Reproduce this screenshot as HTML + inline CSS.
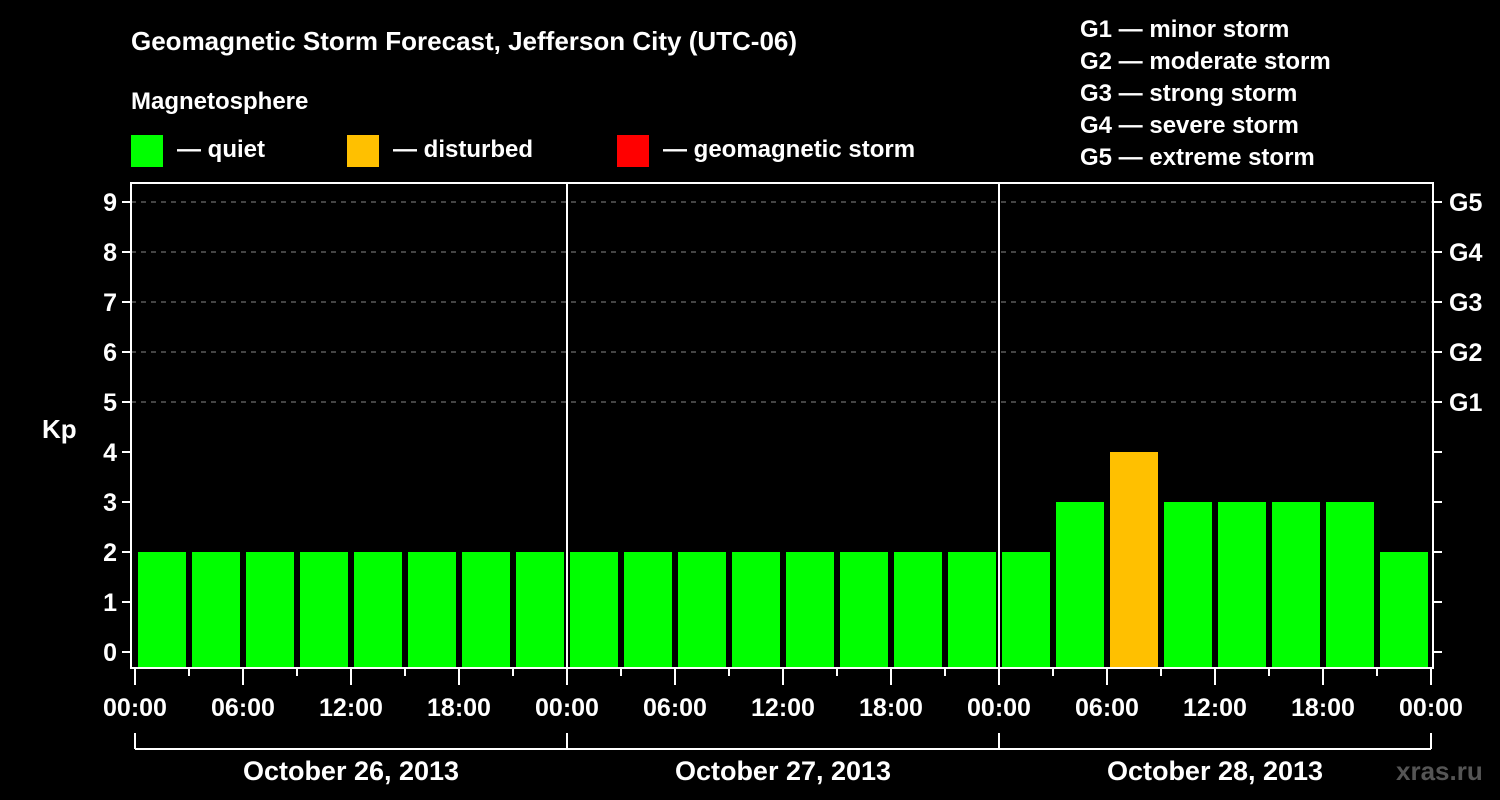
<!DOCTYPE html>
<html><head><meta charset="utf-8"><style>
body{margin:0;background:#000;}
svg{display:block;font-family:"Liberation Sans",Arial,sans-serif;font-weight:bold;}
</style></head><body>
<svg id="c" width="1500" height="800" viewBox="0 0 1500 800">
<rect width="1500" height="800" fill="#000"/>
<text x="131" y="50" fill="#fff" font-size="26">Geomagnetic Storm Forecast, Jefferson City (UTC-06)</text>
<text x="131" y="109" fill="#fff" font-size="24">Magnetosphere</text>
<g><rect x="131" y="135" width="32" height="32" fill="#00ff00"/><text x="177" y="157" fill="#fff" font-size="24">— quiet</text></g>
<g><rect x="347" y="135" width="32" height="32" fill="#ffc000"/><text x="393" y="157" fill="#fff" font-size="24">— disturbed</text></g>
<g><rect x="617" y="135" width="32" height="32" fill="#ff0000"/><text x="663" y="157" fill="#fff" font-size="24">— geomagnetic storm</text></g>
<g fill="#fff" font-size="24">
<text x="1080" y="37">G1 — minor storm</text>
<text x="1080" y="69">G2 — moderate storm</text>
<text x="1080" y="101">G3 — strong storm</text>
<text x="1080" y="133">G4 — severe storm</text>
<text x="1080" y="165">G5 — extreme storm</text>
</g>
<text x="42" y="438" fill="#fff" font-size="26">Kp</text>
<text x="1396" y="780" fill="#555" font-size="26">xras.ru</text>
<g id="plot"></g>
</svg>
<script>
const kpValues=[2,2,2,2,2,2,2,2, 2,2,2,2,2,2,2,2, 2,3,4,3,3,3,3,2];
const dayLabels=["October 26, 2013","October 27, 2013","October 28, 2013"];
const hourLabels=["00:00","06:00","12:00","18:00"];
const gLabels=["G1","G2","G3","G4","G5"];
const NS="http://www.w3.org/2000/svg";
const g=document.getElementById('plot');
const L=131,R=1433,T=183,B=668,X0=135,SLOT=54;
const y=v=>652-50*v;
const x=i=>X0+i*SLOT;
function el(t,a,txt){const e=document.createElementNS(NS,t);for(const k in a)e.setAttribute(k,a[k]);if(txt!==undefined)e.textContent=txt;g.appendChild(e);return e;}
// grid
for(let v=5;v<=9;v++){const e=el('line',{x1:L,x2:R,y1:y(v),y2:y(v),stroke:'#888','stroke-dasharray':'5,5','stroke-width':1});

}
// bars
kpValues.forEach((v,i)=>{const c=v>=5?'#ff0000':(v>=4?'#ffc000':'#00ff00');
const r=el('rect',{x:x(i)+3,y:y(v),width:48,height:B-y(v),fill:c});

});
// day separators
for(let d=1;d<dayLabels.length;d++){const e=el('line',{x1:x(d*8),x2:x(d*8),y1:T,y2:B,stroke:'#fff','stroke-width':2});

}
// frame
const f=el('rect',{x:L,y:T,width:R-L,height:B-T,fill:'none',stroke:'#fff','stroke-width':2});


// y ticks
for(let v=0;v<=9;v++){el('line',{x1:L-9,x2:L,y1:y(v),y2:y(v),stroke:'#fff','stroke-width':2});
el('line',{x1:R,x2:R+9,y1:y(v),y2:y(v),stroke:'#fff','stroke-width':2});
const t=el('text',{x:L-14,y:y(v)+9,fill:'#fff','font-size':25,'text-anchor':'end'},String(v));

}
gLabels.forEach((s,i)=>{const t=el('text',{x:1449,y:y(5+i)+9,fill:'#fff','font-size':25},s);

});
// x ticks
const n=kpValues.length;
for(let i=0;i<=n;i++){const major=i%2===0;
el('line',{x1:x(i),x2:x(i),y1:B,y2:B+(major?17:8),stroke:'#fff','stroke-width':2});
if(major){const lbl=(i===n)?hourLabels[0]:hourLabels[(i/2)%4];
const t=el('text',{x:x(i),y:716,fill:'#fff','font-size':25,'text-anchor':'middle'},lbl);

}}
// day brackets
el('line',{x1:x(0),x2:x(n),y1:749,y2:749,stroke:'#fff','stroke-width':2});
for(let d=0;d<=dayLabels.length;d++)el('line',{x1:x(d*8),x2:x(d*8),y1:733,y2:749,stroke:'#fff','stroke-width':2});
dayLabels.forEach((s,d)=>{const t=el('text',{x:x(d*8+4),y:780,fill:'#fff','font-size':27,'text-anchor':'middle'},s);

});
</script>
</body></html>
